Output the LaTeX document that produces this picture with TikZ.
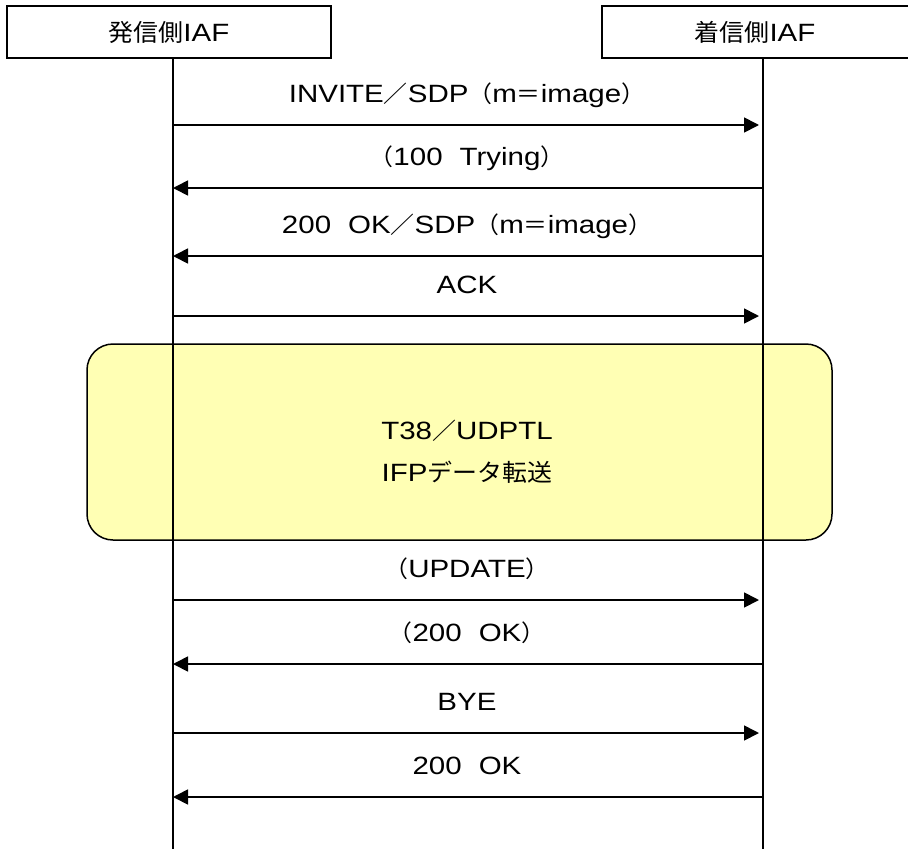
\documentclass[tikz,border=0pt]{standalone}
\usepackage{fontspec}
\setmainfont[FakeStretch=1.18]{Liberation Sans}
\newfontfamily\cjkfont[FakeStretch=1.04]{Noto Sans CJK JP}
\newcommand{\J}[1]{{\fontsize{24}{30}\cjkfont #1}}
\newcommand{\Jp}[1]{{\fontsize{23}{30}\cjkfont #1}}
\newcommand{\gap}{\hspace{17pt}}
\usetikzlibrary{arrows.meta}
\definecolor{boxyellow}{RGB}{255,255,180}
\tikzset{
  hdr/.style={draw=black, line width=1.6pt, fill=white, inner sep=0pt, font=\fontsize{25}{30}\selectfont},
  life/.style={line width=1.3pt, black},
  msg/.style={line width=1.7pt, -{Triangle[length=15pt,width=15pt]}},
  lbl/.style={font=\fontsize{25}{30}\selectfont, inner sep=0pt, anchor=base},
  phase/.style={draw=black, line width=1.5pt, fill=boxyellow, rounded corners=26pt}
}
\begin{document}
\begin{tikzpicture}[x=1pt,y=-1pt]
\useasboundingbox (0,0) rectangle (908,849);
% lifelines
\coordinate (Ltop) at (173,58);
\coordinate (Lbot) at (173,849);
\coordinate (Rtop) at (763,58);
\coordinate (Rbot) at (763,849);
% phase box (behind lifelines)
\node[phase, minimum width=745pt, minimum height=196pt] (ph) at (459.5,442) {};
\draw[life] (Ltop) -- (Lbot);
\draw[life] (Rtop) -- (Rbot);
% headers
\node[hdr, minimum width=324pt, minimum height=52pt] (A) at (169,32) {\J{発信側}IAF};
\draw[line width=1.6pt, fill=white] (920,6) -- (602,6) -- (602,58) -- (920,58);
\node[lbl, anchor=center] (B) at (755,32) {\J{着信側}IAF};
\node[lbl] (t1) at (467,439) {T38\Jp{／}UDPTL};
\node[lbl] (t2) at (467,481) {IFP\J{データ転送}};
% messages
\foreach \y/\dir/\txt [count=\i] in {
  125/r/{INVITE\Jp{／}SDP\Jp{（}m\Jp{＝}image\Jp{）}},
  188/l/{\Jp{（}100\gap Trying\Jp{）}},
  256/l/{200\gap OK\Jp{／}SDP\Jp{（}m\Jp{＝}image\Jp{）}},
  316/r/{ACK},
  600/r/{\Jp{（}UPDATE\Jp{）}},
  664/l/{\Jp{（}200\gap OK\Jp{）}},
  733/r/{BYE},
  797/l/{200\gap OK}}
{
  \coordinate (L\i) at (173,\y);
  \coordinate (R\i) at (763,\y);
  \node[lbl] (m\i) at (467,\y-23) {\txt};
  \if\dir r
    \draw[msg, shorten >=4pt] (L\i) -- (R\i);
  \else
    \draw[msg] (R\i) -- (L\i);
  \fi
}
\end{tikzpicture}
\end{document}
